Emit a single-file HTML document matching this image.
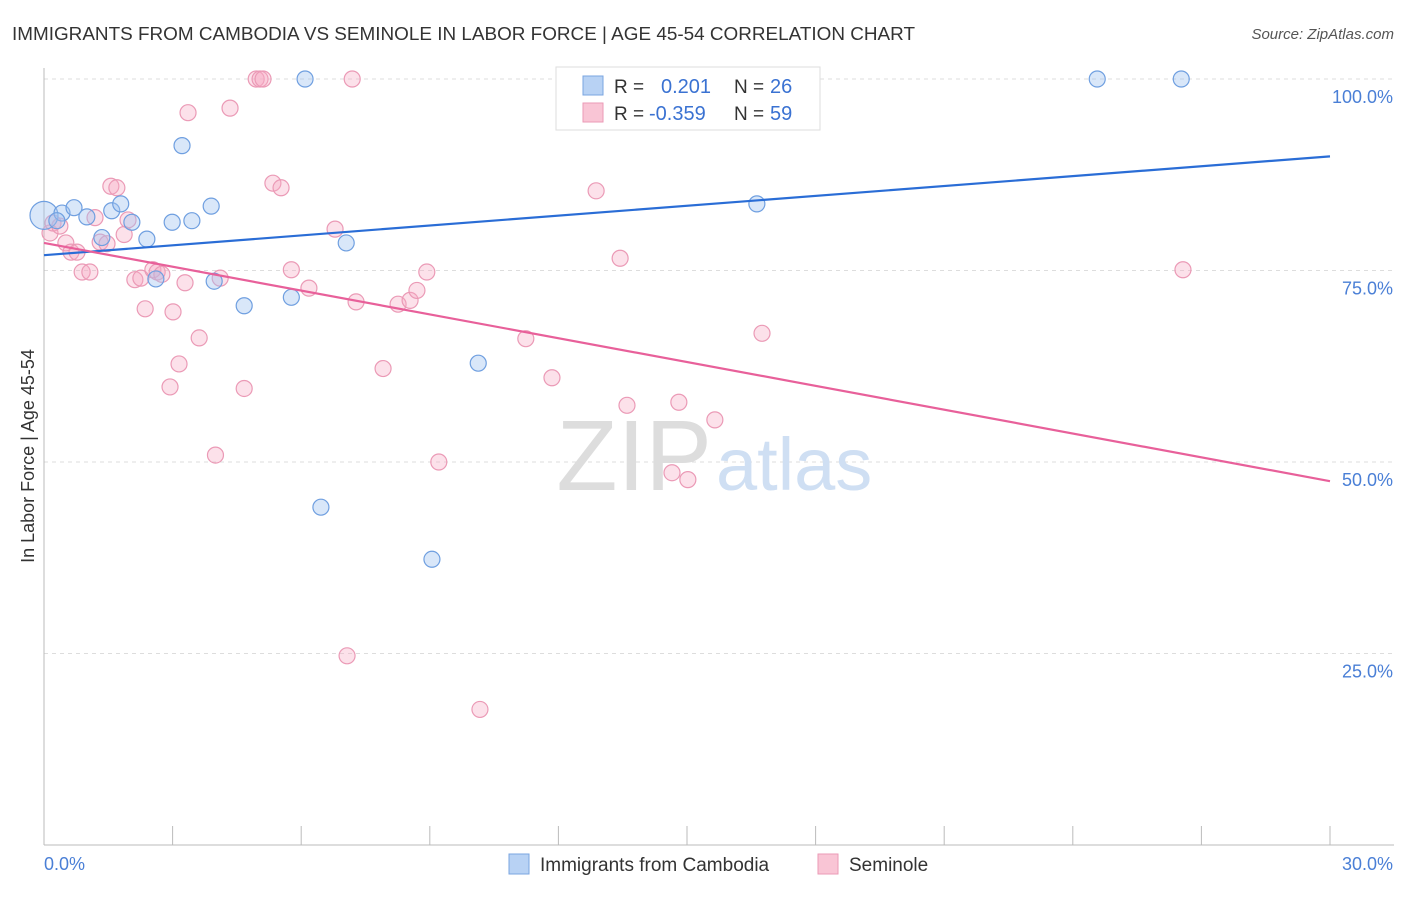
<!DOCTYPE html>
<html><head><meta charset="utf-8">
<style>
body{margin:0;background:#fff;font-family:"Liberation Sans",sans-serif;}
svg text{font-family:"Liberation Sans",sans-serif;}
</style></head>
<body>
<svg width="1406" height="892" viewBox="0 0 1406 892" xmlns="http://www.w3.org/2000/svg">
<text x="12" y="40" font-size="18" fill="#333" textLength="903" lengthAdjust="spacingAndGlyphs">IMMIGRANTS FROM CAMBODIA VS SEMINOLE IN LABOR FORCE | AGE 45-54 CORRELATION CHART</text>
<text x="1394" y="39" font-size="15" fill="#555" text-anchor="end" font-style="italic">Source: ZipAtlas.com</text>
<g id="grid"></g>
<g id="axes"></g>
<text x="712" y="490" font-size="100" fill="#ddd" text-anchor="end" font-family="Liberation Serif">ZIP</text>
<text x="716" y="490" font-size="74" fill="#cfdff3">atlas</text>
<g id="pts"></g>
<g id="lines"></g>
<text transform="translate(34,456) rotate(-90)" font-size="18" fill="#333" text-anchor="middle">In Labor Force | Age 45-54</text>
<g>
<rect x="556" y="67" width="264" height="63" fill="#fff" stroke="#ddd"/>
<rect x="583" y="76" width="20" height="19" fill="#b8d2f4" stroke="#7aa5e0"/>
<rect x="583" y="103" width="20" height="19" fill="#f9c5d5" stroke="#eb9ab6"/>
<text x="614" y="93" font-size="19" fill="#333">R = </text>
<text x="661" y="93" font-size="20" fill="#3a72d2">0.201</text>
<text x="734" y="93" font-size="19" fill="#333">N = </text>
<text x="770" y="93" font-size="20" fill="#3a72d2">26</text>
<text x="614" y="120" font-size="19" fill="#333">R = </text>
<text x="649" y="120" font-size="20" fill="#3a72d2">-0.359</text>
<text x="734" y="120" font-size="19" fill="#333">N = </text>
<text x="770" y="120" font-size="20" fill="#3a72d2">59</text>
</g>
<g>
<rect x="509" y="854" width="20" height="20" fill="#b8d2f4" stroke="#7aa5e0"/>
<text x="540" y="871" font-size="19" fill="#333">Immigrants from Cambodia</text>
<rect x="818" y="854" width="20" height="20" fill="#f9c5d5" stroke="#eb9ab6"/>
<text x="849" y="871" font-size="19" fill="#333">Seminole</text>
</g>
</svg>
<script>
const yTicks=[25,50,75,100];
const yTickLabels=["25.0%","50.0%","75.0%","100.0%"];
const xTicks=[0,3,6,9,12,15,18,21,24,27,30];
const blueX=[0,0.42,0.7,1.0,1.35,1.58,1.79,2.05,2.4,2.61,2.99,3.22,3.45,3.9,3.97,4.67,5.77,6.09,7.05,9.05,6.46,10.13,16.63,24.57,26.53,0.3];
const blueY=[82.2,82.5,83.2,82.0,79.3,82.8,83.7,81.3,79.1,73.9,81.3,91.3,81.5,83.4,73.6,70.4,71.5,100,78.6,37.3,44.1,62.9,83.7,100,100,81.5];
const pinkX=[0.14,0.21,0.37,0.51,0.63,0.77,0.89,1.07,1.19,1.31,1.47,1.56,1.7,1.87,1.96,2.12,2.26,2.36,2.54,2.64,2.75,2.94,3.01,3.15,3.29,3.36,3.62,4.0,4.11,4.34,4.67,4.95,5.04,5.11,5.34,5.53,5.77,6.18,6.79,7.07,7.19,7.28,7.91,8.26,8.54,8.7,8.93,9.21,10.17,11.24,11.85,12.88,13.44,13.6,14.65,14.81,15.02,15.65,16.75,26.57];
const pinkY=[79.9,81.2,80.8,78.6,77.4,77.4,74.8,74.8,81.9,78.7,78.5,86.0,85.8,79.7,81.6,73.8,74.0,70.0,75.1,74.8,74.5,59.8,69.6,62.8,73.4,95.6,66.2,50.9,74.0,96.2,59.6,100,100,100,86.4,85.8,75.1,72.7,80.4,24.7,100,70.9,62.2,70.6,71.1,72.4,74.8,50.0,17.7,66.1,61.0,85.4,76.6,57.4,48.6,57.8,47.7,55.5,66.8,75.1];
const blueLine=[[0,77.0],[30,89.9]];
const pinkLine=[[0,78.6],[30,47.5]];
const NS="http://www.w3.org/2000/svg";
const X0=44,X1=1330,YT=79,YB=845;
const sx=v=>X0+(v/30)*(X1-X0);
const sy=v=>YB-(v/100)*(YB-YT);
function mk(tag,attrs,parent){const e=document.createElementNS(NS,tag);for(const k in attrs)e.setAttribute(k,attrs[k]);parent.appendChild(e);return e;}
const grid=document.getElementById('grid'),axes=document.getElementById('axes'),pts=document.getElementById('pts'),lines=document.getElementById('lines');
yTicks.forEach((t,i)=>{
 const l=mk('line',{x1:X0,x2:1394,y1:sy(t),y2:sy(t),stroke:'#ddd','stroke-dasharray':'4,4'},grid);
 
 
 const tx=mk('text',{x:1393,y:sy(t)+24,'font-size':18,fill:'#4a7fd6','text-anchor':'end'},axes);
 tx.textContent=yTickLabels[i];
 
 
});
const ax=mk('line',{x1:X0,x2:X0,y1:68,y2:YB,stroke:'#bbb'},axes);


const bx=mk('line',{x1:X0,x2:1394,y1:YB,y2:YB,stroke:'#bbb'},axes);


xTicks.forEach(t=>{
 const l=mk('line',{x1:sx(t),x2:sx(t),y1:826,y2:YB,stroke:'#bbb'},axes);
 
 
});
const xl0=mk('text',{x:44,y:870,'font-size':18,fill:'#4a7fd6'},axes);xl0.textContent='0.0%';


const xl1=mk('text',{x:1393,y:870,'font-size':18,fill:'#4a7fd6','text-anchor':'end'},axes);xl1.textContent='30.0%';


pinkX.forEach((v,i)=>{
 const c=mk('circle',{cx:sx(v),cy:sy(pinkY[i]),r:8,fill:'rgba(245,170,195,0.35)',stroke:'#eb9ab6','stroke-width':1.2},pts);
 
 
});
blueX.forEach((v,i)=>{
 const c=mk('circle',{cx:sx(v),cy:sy(blueY[i]),r:i===0?14:8,fill:'rgba(160,195,240,0.4)',stroke:'#6f9fe0','stroke-width':1.2},pts);
 
 
});
const bl=mk('line',{x1:sx(blueLine[0][0]),y1:sy(blueLine[0][1]),x2:sx(blueLine[1][0]),y2:sy(blueLine[1][1]),stroke:'#2a6dd6','stroke-width':2.2},lines);


const pl=mk('line',{x1:sx(pinkLine[0][0]),y1:sy(pinkLine[0][1]),x2:sx(pinkLine[1][0]),y2:sy(pinkLine[1][1]),stroke:'#e8609a','stroke-width':2.2},lines);


</script>
</body></html>
